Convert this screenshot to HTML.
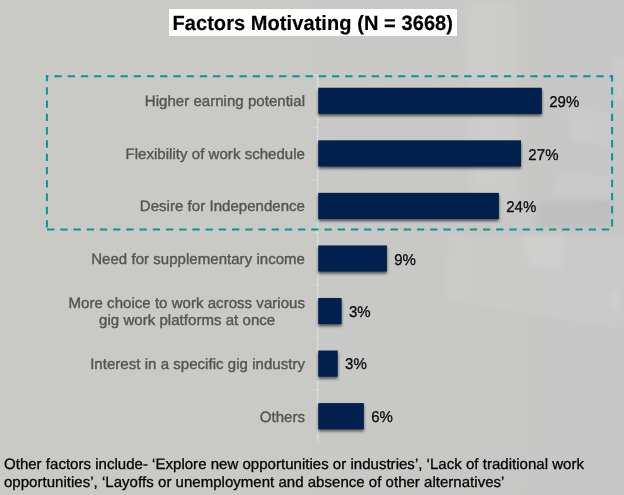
<!DOCTYPE html>
<html><head><meta charset="utf-8"><title>Factors Motivating</title>
<style>
html,body{margin:0;padding:0;}
body{font-kerning:none;text-rendering:geometricPrecision;width:624px;height:495px;overflow:hidden;position:relative;background:#c7c7c5;font-family:"Liberation Sans",sans-serif;}
#wrap{position:absolute;left:0;top:0;width:624px;height:495px;will-change:transform;}
#bg{position:absolute;left:0;top:0;width:624px;height:495px;background:
linear-gradient(to right, #c9cac6 0%, #c9cac6 40%, #c8c8c6 62%, #c7c7c6 80%, #c6c6c6 100%);}
.title{position:absolute;left:168.85px;top:8.85px;width:288.5px;height:27.15px;background:#fff;}
.title span{transform:scaleY(1.035);transform-origin:0 16px;-webkit-text-stroke:0.2px #000;letter-spacing:0.075px;position:absolute;left:3.6px;top:0;font-weight:bold;font-size:20px;line-height:20px;color:#000;white-space:nowrap;}
.bar{position:absolute;background:#01204d;box-shadow:0.5px 1.5px 2px rgba(0,0,0,0.45);}
.lab{-webkit-text-stroke:0.38px #545454;letter-spacing:0.04px;position:absolute;right:319.0px;font-size:15px;line-height:18.5px;color:#545454;text-align:center;white-space:nowrap;}
.val{transform:scaleY(1.04);transform-origin:0 13px;-webkit-text-stroke:0.3px #0c0c0c;letter-spacing:0.08px;position:absolute;font-size:15px;line-height:18.5px;color:#0c0c0c;white-space:nowrap;}
.foot{-webkit-text-stroke:0.3px #000;letter-spacing:0.024px;position:absolute;left:4.0px;top:456px;font-size:15px;line-height:17.6px;color:#000;white-space:nowrap;}
svg{position:absolute;left:0;top:0;}
</style></head><body>
<div id="bg"><svg width="624" height="495" viewBox="0 0 624 495">
<defs><filter id="bl" x="-20%" y="-20%" width="140%" height="140%"><feGaussianBlur stdDeviation="2.5"/></filter>
<filter id="bl2" x="-20%" y="-20%" width="140%" height="140%"><feGaussianBlur stdDeviation="6"/></filter></defs>
<g filter="url(#bl)">
<polygon points="447,236 624,236 624,330 444,300" fill="#fff" opacity="0.06"/>
<polygon points="521,236 566,236 560,272 530,265" fill="#fff" opacity="0.10"/>
<ellipse cx="615" cy="300" rx="4" ry="8" fill="#fff" opacity="0.12"/>
<polygon points="566,108 611,112 611,147 570,142" fill="#fff" opacity="0.07"/>
<polygon points="556,172 611,175 611,197 552,195" fill="#fff" opacity="0.06"/>
<polygon points="540,203 611,200 611,226 536,226" fill="#000" opacity="0.04"/>
<polygon points="612,60 624,55 624,100 616,104" fill="#fff" opacity="0.08"/>
</g>
<g filter="url(#bl2)">
<polygon points="463,0 515,0 518,200 472,200" fill="#fff" opacity="0.10"/>
</g>
</svg></div>
<div id="wrap">
<svg width="624" height="495" viewBox="0 0 624 495">
<g stroke="#d7d7d6" stroke-width="1.3" fill="none">
<path d="M317.75,74.3 V441.7" stroke-width="1.9"/>
<path d="M312.9,74.70 H317.5"/>
<path d="M312.9,127.27 H317.5"/>
<path d="M312.9,179.84 H317.5"/>
<path d="M312.9,232.41 H317.5"/>
<path d="M312.9,284.98 H317.5"/>
<path d="M312.9,337.55 H317.5"/>
<path d="M312.9,390.12 H317.5"/>
</g>
<g stroke="#079595" stroke-width="2" fill="none">
<path d="M45.9,76.3 H613.1" stroke-dasharray="7.3 5.92" stroke-dashoffset="4.72"/>
<path d="M612.1,75.2 V229.6" stroke-dasharray="7.3 5.9" stroke-dashoffset="1.1"/>
<path d="M612.1,229.6 H45.9" stroke-dasharray="7.3 5.91" stroke-dashoffset="10.3"/>
<path d="M46.9,229.6 V75.2" stroke-dasharray="7.35 5.95" stroke-dashoffset="11.2"/>
</g>
<g fill="#01204d" style="filter:drop-shadow(0.8px 2.5px 1.8px rgba(0,0,0,0.62))">
<rect x="318.25" y="87.77" width="223.61" height="26.1"/>
<rect x="318.25" y="140.33" width="202.75" height="26.1"/>
<rect x="318.25" y="192.88" width="180.65" height="26.1"/>
<rect x="318.25" y="245.44" width="68.65" height="26.1"/>
<rect x="318.25" y="297.99" width="23.35" height="26.1"/>
<rect x="318.25" y="350.55" width="19.45" height="26.1"/>
<rect x="318.25" y="403.1" width="45.60" height="26.1"/>
</g>
</svg>
<div class="title"><span style="top:5.1px">Factors Motivating (N = 3668)</span></div>
<div class="lab" style="top:93px">Higher earning potential</div>
<div class="val" style="left:549.16px;top:94px">29%</div>
<div class="lab" style="top:146px">Flexibility of work schedule</div>
<div class="val" style="left:528.30px;top:147px">27%</div>
<div class="lab" style="top:198px">Desire for Independence</div>
<div class="val" style="left:506.20px;top:199px">24%</div>
<div class="lab" style="top:251px">Need for supplementary income</div>
<div class="val" style="left:394.20px;top:252px">9%</div>
<div class="lab" style="top:295px">More choice to work across various</div>
<div class="lab" style="right:348.8px;top:312px">gig work platforms at once</div>
<div class="val" style="left:348.90px;top:304px">3%</div>
<div class="lab" style="top:356px">Interest in a specific gig industry</div>
<div class="val" style="left:345.00px;top:356px">3%</div>
<div class="lab" style="top:409px">Others</div>
<div class="val" style="left:371.15px;top:409px">6%</div>
<div class="foot">Other factors include- ‘Explore new opportunities or industries’, ‘Lack of traditional work<br>opportunities’, ‘Layoffs or unemployment and absence of other alternatives’</div>
</div>
</body></html>
